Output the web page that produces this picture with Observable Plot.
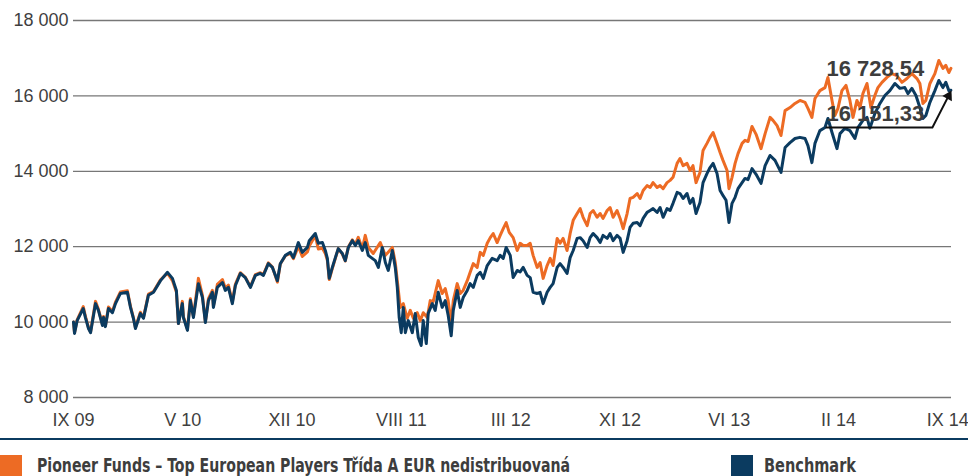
<!DOCTYPE html>
<html><head><meta charset="utf-8">
<script src="https://cdn.jsdelivr.net/npm/d3@7"></script>
<script src="https://cdn.jsdelivr.net/npm/@observablehq/plot@0.6"></script>
<style>
body{margin:0;background:#fff;}
#wrap{position:relative;width:968px;height:476px;overflow:hidden;font-family:"Liberation Sans",Arial,sans-serif;}
#chart{position:absolute;left:0;top:0;}
#sep{position:absolute;left:0;top:438px;width:968px;height:2px;background:#0b3b60;}
.sw{position:absolute;top:455px;width:22px;height:22px;}
.lt{position:absolute;top:452px;line-height:26px;font-size:20px;font-weight:bold;color:#3d3d3d;white-space:nowrap;
 font-family:"Liberation Sans Narrow","DejaVu Sans Condensed","Liberation Sans",Arial,sans-serif;font-stretch:condensed;transform-origin:0 50%;}
</style></head>
<body>
<div id="wrap">
  <div id="chart"></div>
  <div id="sep"></div>
  <div class="sw" id="sw0" style="left:0px"></div>
  <span class="lt" id="lt0" style="left:37px"></span>
  <div class="sw" id="sw1" style="left:731px"></div>
  <span class="lt" id="lt1" style="left:764px"></span>
</div>
<script>
// ---- data ----
const seriesNames = ["Pioneer Funds – Top European Players Třída A EUR nedistribuovaná", "Benchmark"];
const seriesColors = ["#ed6b24", "#0b3b60"];

const xTickMonths = [0, 7.5, 15, 22.5, 30, 37.5, 45, 52.5, 60];
const xTickLabels = ["IX 09", "V 10", "XII 10", "VIII 11", "III 12", "XI 12", "VI 13", "II 14", "IX 14"];
const yTicks = [8000, 10000, 12000, 14000, 16000, 18000];

// months since IX 2009
const benchMonth = [0,0.07,0.25,0.67,0.82,1.03,1.17,1.51,1.71,1.99,2.06,2.19,2.40,2.67,2.88,3.22,3.70,3.91,4.11,4.25,4.59,4.80,5.14,5.49,5.97,6.45,6.79,7.06,7.20,7.47,7.54,7.82,8.02,8.23,8.57,8.85,9.05,9.26,9.53,9.60,9.87,10.22,10.42,10.63,10.90,11.11,11.45,11.79,12.14,12.48,12.82,13.03,13.37,13.65,13.99,14.19,14.54,14.88,15.09,15.43,15.70,16.05,16.18,
16.59,16.80,17.08,17.28,17.42,17.55,17.76,17.97,18.17,18.45,18.65,18.86,19.13,19.34,19.54,19.82,20.02,
20.23,20.50,20.71,20.92,21.19,21.40,21.60,21.88,22.08,22.22,22.35,22.49,22.63,22.77,22.97,23.25,23.45,23.66,23.86,24.00,24.21,24.34,24.62,24.82,25.03,25.30,25.51,25.71,25.92,26.06,26.33,26.54,26.74,27.02,27.22,27.43,27.70,27.91,28.12,28.39,28.73,29.07,29.28,29.49,29.69,29.97,30.17,30.45,30.65,30.86,31.13,31.34,31.54,31.82,32.02,32.23,32.50,32.71,32.91,33.19,33.39,33.60,33.87,34.08,34.29,34.56,34.77,34.97,35.25,35.45,35.66,35.93,36.14,36.34,36.62,36.82,37.03,37.30,37.51,37.72,37.99,38.19,38.40,38.68,38.88,39.09,39.36,39.57,39.77,40.05,40.25,40.46,40.73,40.94,41.14,41.42,41.62,41.83,42.10,42.31,42.51,42.72,42.99,43.20,43.47,43.68,43.89,44.16,44.37,44.57,44.78,44.98,45.19,45.40,45.60,45.88,46.08,46.29,46.56,46.84,47.18,47.46,47.80,48.14,48.55,48.83,49.17,49.51,49.85,50.20,50.40,50.67,50.88,51.22,51.57,51.77,52.05,52.39,52.60,52.94,53.28,53.62,53.83,54.17,54.45,54.65,54.99,55.34,55.68,56.02,56.37,56.71,57.05,57.26,57.53,57.81,58.08,58.29,58.49,58.77,59.11,59.38,59.66,59.86,60.07,60.21];
const benchValue = [10000,9700,10040,10360,10120,9830,9720,10490,10310,9910,10120,9880,10360,10250,10490,10760,10790,10390,10100,9830,10230,10100,10710,10790,11100,11320,11160,10840,9960,10490,10120,9780,10570,10120,11020,10650,9990,10570,10790,10390,10920,11050,10840,10920,10490,10970,11290,11180,10920,11240,11290,11240,11550,11450,11100,11550,11770,11850,11710,12110,11850,11980,12160,
12350,12090,12110,11900,11690,11160,11450,11710,11950,11820,11630,11980,12160,12030,12160,11900,12110,
11770,11690,11630,11450,11980,11580,11370,11900,11450,10920,10120,9720,10390,9720,10040,9720,10230,9590,9380,10040,9430,10230,10490,10310,10790,10390,10570,10180,9640,10310,10840,10390,10650,10840,11020,10920,11240,11320,11160,11500,11690,11630,11770,11690,11980,11770,11180,11370,11330,11450,11240,11180,10790,10760,10790,10490,10790,10920,11020,11450,11550,11450,11290,11710,11900,12220,12240,12160,11980,12240,12350,12240,12110,12300,12220,12350,12160,12300,12220,11850,12160,12510,12620,12640,12560,12750,12910,12960,13010,12910,13040,12780,13010,12960,13150,13440,13410,13280,13410,13150,13280,12880,13170,13700,13940,14100,14210,13940,13490,13360,13230,12640,13150,13310,13540,13700,13810,13780,14070,13920,13680,14150,14420,14290,13970,14630,14760,14870,14900,14870,14680,14230,14740,15080,15160,15400,15030,14600,15000,15140,15080,14870,15160,15350,15430,15140,15530,15800,16010,16140,16330,16200,16220,16060,16200,16010,15690,15400,15480,15830,16140,16410,16220,16360,16140,16151.33];

const fundMonth = benchMonth.slice(0, 80).concat([20.23,20.57,21.05,21.40,21.88,22.08,22.22,22.42,22.63,22.90,23.11,23.32,23.59,23.80,24.00,24.28,24.48,24.69,25.03,25.30,25.51,25.71,25.92,26.06,26.33,26.54,26.74,27.02,27.22,27.43,27.70,27.91,28.12,28.39,28.60,28.80,29.07,29.28,29.49,29.69,29.90,30.17,30.45,30.65,30.86,31.13,31.34,31.54,31.82,32.02,32.23,32.50,32.71,32.91,33.19,33.39,33.60,33.87,34.08,34.29,34.56,34.77,34.97,35.25,35.45,35.66,35.93,36.14,36.34,36.62,36.82,37.03,37.30,37.51,37.72,37.99,38.19,38.40,38.68,38.88,39.09,39.36,39.57,39.77,40.05,40.25,40.46,40.73,40.94,41.14,41.42,41.62,41.83,42.10,42.31,42.51,42.72,42.99,43.20,43.47,43.68,43.89,44.16,44.37,44.57,44.85,44.98,45.19,45.40,45.60,45.88,46.08,46.29,46.56,46.84,47.18,47.46,47.80,48.00,48.28,48.55,48.83,49.17,49.51,49.85,50.20,50.40,50.67,50.88,51.22,51.57,51.77,52.05,52.25,52.46,52.73,53.01,53.28,53.49,53.76,53.97,54.17,54.45,54.72,54.99,55.20,55.48,55.82,56.16,56.50,56.85,57.19,57.53,57.88,58.08,58.29,58.49,58.77,59.11,59.38,59.66,59.86,60.07,60.21]);
const fundValue = [10000,9720,10060,10410,10150,9850,9740,10550,10340,9930,10150,9900,10400,10280,10530,10800,10830,10420,10120,9850,10260,10120,10740,10810,11120,11300,11100,10800,9960,10550,10150,9800,10620,10150,11160,10700,10010,10620,10840,10420,11000,11130,10900,10980,10530,11010,11310,11190,10940,11260,11310,11260,11570,11460,11060,11540,11760,11820,11680,12010,11740,11860,12020,
12290,11940,11960,11820,11640,11130,11420,11690,11950,11800,11620,11990,12180,12060,12250,11950,12300,
11980,11820,12110,11770,11980,11580,11100,10390,10490,10100,10310,10100,10250,10040,10250,10120,10570,10550,11100,10760,10890,10570,9960,10570,11020,10760,10840,11100,11320,11550,11450,11850,11770,12090,12240,12350,12110,12300,12480,12640,12380,12240,11900,12090,12030,12030,12090,11770,11450,11580,11160,11500,11690,11500,12220,12090,12220,11900,12350,12700,12880,13010,12780,12560,12880,12960,12780,12880,12750,12960,13040,12780,12960,12750,12480,12880,13280,13310,13410,13280,13490,13620,13570,13700,13570,13620,13540,13700,13760,13840,14210,14340,14150,14210,14020,14150,13700,13970,14550,14740,14900,15030,14740,14500,14290,14020,13540,13840,14210,14470,14740,14820,14790,15190,14980,14600,15000,15430,15350,15210,14950,15610,15690,15800,15880,15830,15670,15430,15930,16140,16220,16490,15880,15480,15670,16140,16280,15880,15430,15880,15690,16060,16330,15690,16010,16220,16360,16490,16590,16540,16360,16460,16590,16460,16330,15800,15880,16330,16590,16940,16730,16810,16620,16728.54];

// annotation (final values) and its pointer
const annoText = ["16 728,54", "16 151,33"];
const annoMonth = [51.67, 51.67];
const annoValue = [16727, 15533];
const pointerMonth = [51.67, 58.94, 60.05];
const pointerValue = [15162, 15162, 16000];

// ---- build ----
const fund = fundMonth.map((m, i) => ({month: m, value: fundValue[i]}));
const bench = benchMonth.map((m, i) => ({month: m, value: benchValue[i]}));
const annos = annoText.map((t, i) => ({text: t, month: annoMonth[i], value: annoValue[i]}));
const pointer = pointerMonth.map((m, i) => ({month: m, value: pointerValue[i]}));
const pointerEnd = pointer.slice(-1);

const fmtY = d => d3.format(",")(d).replace(/,/g, " ");
const fmtX = d => xTickLabels[xTickMonths.indexOf(d)];

const chart = Plot.plot({
  width: 968, height: 444,
  marginLeft: 73, marginRight: 17, marginTop: 20, marginBottom: 47,
  style: {fontFamily: "'Liberation Sans', Arial, sans-serif", fontSize: "18px", color: "#3f3f3f", background: "transparent", overflow: "visible"},
  x: {domain: [0, 60.25], ticks: xTickMonths, tickFormat: fmtX, tickSize: 0, tickPadding: 16, label: null},
  y: {domain: [8000, 18000], ticks: yTicks, tickFormat: fmtY, tickSize: 0, tickPadding: 5, label: null},
  marks: [
    Plot.ruleY(yTicks, {stroke: "#777", strokeWidth: 1.3}),
    Plot.line(fund, {x: "month", y: "value", stroke: seriesColors[0], strokeWidth: 3, strokeLinejoin: "round"}),
    Plot.line(bench, {x: "month", y: "value", stroke: seriesColors[1], strokeWidth: 3, strokeLinejoin: "round"}),
    Plot.text(annos, {x: "month", y: "value", text: "text", textAnchor: "start", fontWeight: "bold", fontSize: 22, fill: "#3d3d3d"}),
    Plot.line(pointer, {x: "month", y: "value", stroke: "#111", strokeWidth: 2}),
    Plot.dot(pointerEnd, {x: "month", y: "value", symbol: "triangle", r: 4, fill: "#111", stroke: "none", rotate: 28})
  ]
});
document.getElementById("chart").appendChild(chart);

// legend
const targets = [533, 92];
seriesNames.forEach((n, i) => {
  document.getElementById("sw" + i).style.background = seriesColors[i];
  const el = document.getElementById("lt" + i);
  el.textContent = n;
  const w = el.getBoundingClientRect().width;
  if (w > 0) el.style.transform = `scaleX(${targets[i] / w})`;
});
</script>
</body></html>
